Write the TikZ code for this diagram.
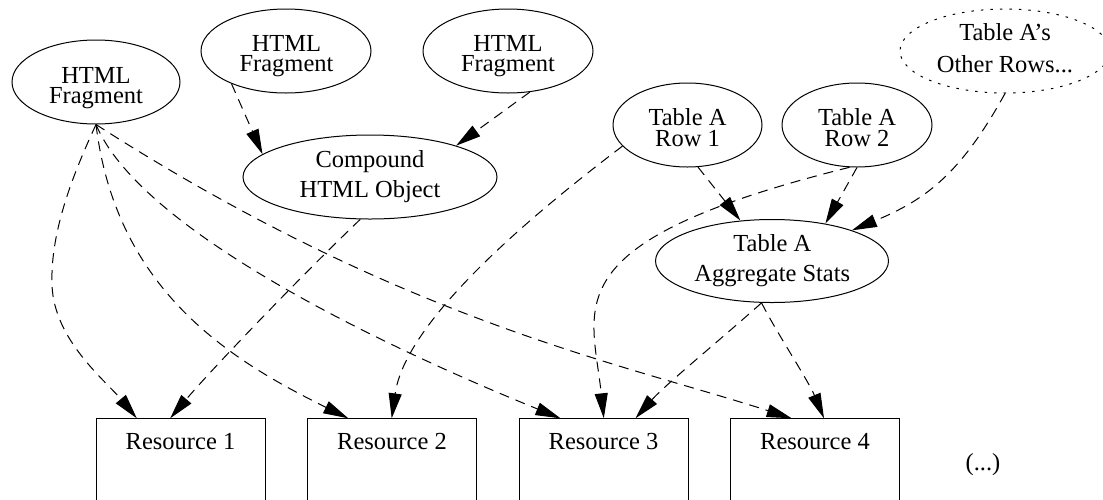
\documentclass[tikz,border=0pt]{standalone}
\usepackage{fontspec}
\setmainfont{Liberation Serif}
\usetikzlibrary{arrows.meta,shapes.geometric}
\tikzset{
  ell/.style={draw, ellipse, inner sep=0pt, line width=1pt},
  dottedell/.style={ell, dash pattern=on 2.5pt off 7pt},
  lbl/.style={align=center, inner sep=0pt, font=\fontsize{24.5}{20}\selectfont},
  lblr/.style={align=center, inner sep=0pt, font=\fontsize{24.5}{21}\selectfont},
  lblw/.style={align=center, inner sep=0pt, font=\fontsize{24.5}{30}\selectfont},
  lblo/.style={align=center, inner sep=0pt, font=\fontsize{24.5}{32}\selectfont},
  res/.style={draw, line width=1pt, anchor=north, minimum width=169pt,
    text height=31pt, text depth=100pt, inner ysep=0pt, inner xsep=0pt,
    font=\fontsize{24.5}{29}\selectfont},
  dep/.style={draw, line width=1pt, dash pattern=on 10pt off 7pt,
    -{Triangle[length=25pt,width=13pt]}},
}
\begin{document}
\begin{tikzpicture}[x=1pt,y=-1pt]
\useasboundingbox (0,0) rectangle (1103,499);
\clip (0,0) rectangle (1103,499);

% ellipses
\node[ell, minimum width=168pt, minimum height=84pt] (f1) at (96,82) {};
\node[ell, minimum width=170pt, minimum height=84pt] (f2) at (286,51) {};
\node[ell, minimum width=170pt, minimum height=84pt] (f3) at (508,51) {};
\node[ell, minimum width=254pt, minimum height=84pt] (cmp) at (370,177) {};
\node[ell, minimum width=149pt, minimum height=84pt] (row1) at (687.5,125) {};
\node[ell, minimum width=150pt, minimum height=84pt] (row2) at (857,125) {};
\node[dottedell, minimum width=210pt, minimum height=84pt] (other) at (1005,51) {};
\node[ell, minimum width=233pt, minimum height=83pt] (agg) at (772,261) {};

% labels
\node[lbl] (f1t) at (96,88) {HTML\\Fragment};
\node[lbl] (f2t) at (286.5,56.6) {HTML\\Fragment};
\node[lbl] (f3t) at (508,56.6) {HTML\\Fragment};
\node[lblw] (cmpt) at (370,176.3) {Compound\\HTML Object};
\node[lblr] (row1t) at (687.5,127.2) {Table A\\Row 1};
\node[lblr] (row2t) at (857,127.2) {Table A\\Row 2};
\node[lblo] (othert) at (1005,47.7) {Table A’s\\Other Rows...};
\node[lblw] (aggt) at (772.3,261) {Table A\\Aggregate Stats};

% resources
\node[res] (r1) at (180.5,418.3) {Resource 1};
\node[res] (r2) at (392,418.3) {Resource 2};
\node[res] (r3) at (603.5,418.3) {Resource 3};
\node[res] (r4) at (815,418.3) {Resource 4};
\node[inner sep=0pt, font=\fontsize{24.5}{29}\selectfont] (more) at (983,465) {(...)};

% connectors
\draw[dep] (f1.south) .. controls (75,170) and (50,230) .. (52,285)
  .. controls (54,340) and (105,380) .. ([xshift=41.3pt]r1.north west);
\draw[dep] (f1.south) .. controls (116,290) and (230,360) .. ([xshift=41.3pt]r2.north west);
\draw[dep] (f1.south) .. controls (140,230) and (380,345) .. ([xshift=42pt]r3.north west);
\draw[dep] (f1.south) .. controls (400,320) and (620,363) .. ([xshift=61.7pt]r4.north west);
\draw[dep] (cmp.257) .. controls (300,277) and (211,370) .. ([xshift=74.7pt]r1.north west);
\draw[dep] (f2.211.5) -- (cmp.168);
\draw[dep] (f3.298.4) -- (cmp.20);
\draw[dep] (row1.198.8) .. controls (463,267) and (402,345) .. ([xshift=84.7pt]r2.north west);
\draw[dep] (row1.284.5) -- (agg.128);
\draw[dep] (row2.south) -- (agg.35);
\draw[dep] (row2.260) .. controls (550,242) and (592,305) .. ([xshift=85.3pt]r3.north west);
\draw[dep] (other.south) .. controls (960,175) and (925,200) .. (agg.21);
\draw[dep] (agg.256.5) .. controls (720,340) and (665,385) .. ([xshift=117pt]r3.north west);
\draw[dep] (agg.256.5) .. controls (775,330) and (808,380) .. ([xshift=94pt]r4.north west);
\end{tikzpicture}
\end{document}
